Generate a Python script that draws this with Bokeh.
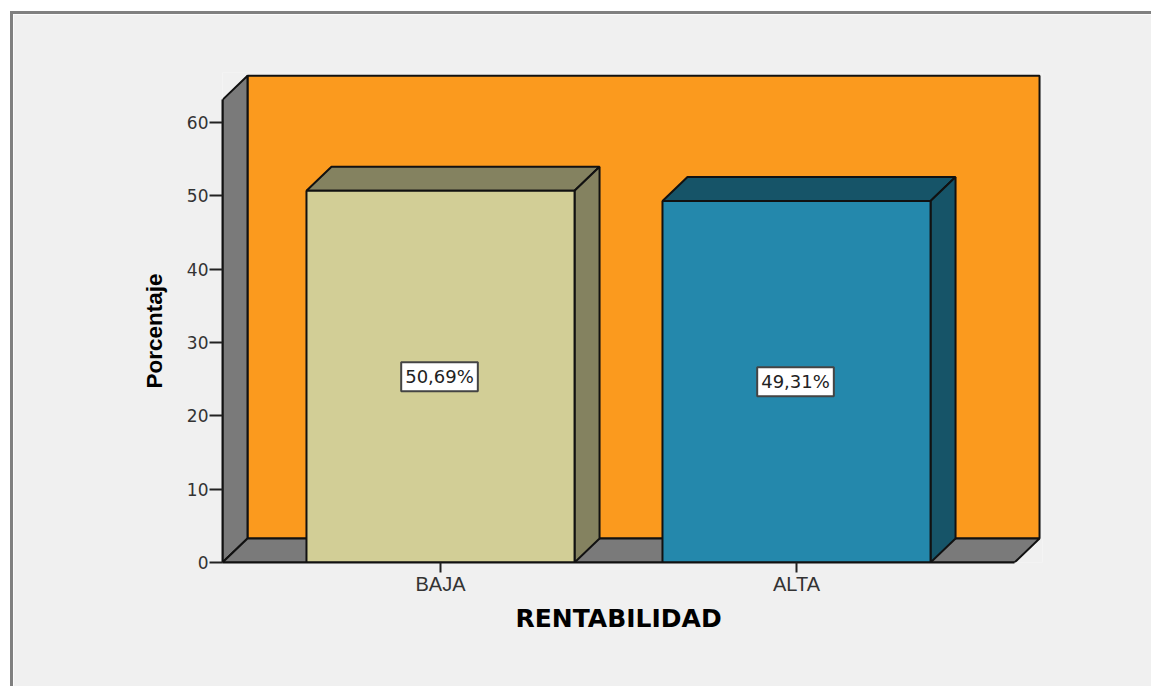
from bokeh.plotting import figure
from bokeh.models import Label, FixedTicker, Range1d, Title
from bokeh.embed import file_html
from bokeh.resources import INLINE

categories = ["BAJA", "ALTA"]
positions = [1, 2]
values = [50.69, 49.31]
value_labels = ["50,69%", "49,31%"]
y_ticks = [0, 10, 20, 30, 40, 50, 60]
front_colors = ["#D2CE96", "#2488AC"]
dark_colors = ["#848260", "#165468"]

ORANGE, GREY, BG, INK = "#FB9A1E", "#7A7A7A", "#F0F0F0", "#111111"
X_LO, X_HI, Y_TOP = 0.3876, 2.6124, 63.1
BAR_W = 0.753
DX, DY = 25 / 356, 24 / 7.333
PX_X, PX_Y = 356, 7.333

ORIGIN_X, ORIGIN_Y = 13, 14
FIG_W, FIG_H = 1141, 675
FRAME_L, FRAME_R, FRAME_T, FRAME_B = 222, 1042, 72, 562

p = figure(width=FIG_W, height=FIG_H, output_backend="svg", toolbar_location=None,
           x_range=Range1d(X_LO, X_LO + (FRAME_R - FRAME_L) / PX_X),
           y_range=Range1d(0, (FRAME_B - FRAME_T) / PX_Y),
           min_border_left=FRAME_L - ORIGIN_X, min_border_right=ORIGIN_X + FIG_W - FRAME_R,
           min_border_top=FRAME_T - ORIGIN_Y, min_border_bottom=ORIGIN_Y + FIG_H - FRAME_B,
           background_fill_color=BG, border_fill_color=BG, outline_line_color=None,
           margin=(11, 0, 0, 10))
p.grid.visible = False
p.styles = {"border-left": "3px solid #808080", "border-top": "3px solid #808080"}

# walls and floor
p.patch([X_LO + DX, X_HI + DX, X_HI + DX, X_LO + DX], [DY, DY, Y_TOP + DY, Y_TOP + DY],
        fill_color=ORANGE, line_color=INK, line_width=2)
p.patch([X_LO, X_LO + DX, X_LO + DX, X_LO], [0, DY, Y_TOP + DY, Y_TOP],
        fill_color=GREY, line_color=INK, line_width=2)
p.patch([X_LO, X_HI, X_HI + DX, X_LO + DX], [0, 0, DY, DY],
        fill_color=GREY, line_color=INK, line_width=2)

# bars
for c, v, front, dark in zip(positions, values, front_colors, dark_colors):
    l, r = c - BAR_W / 2, c + BAR_W / 2
    p.patch([l, r, r + DX, l + DX], [v, v, v + DY, v + DY], fill_color=dark, line_color=INK, line_width=2)
    p.patch([r, r + DX, r + DX, r], [0, DY, v + DY, v], fill_color=dark, line_color=INK, line_width=2)
    p.patch([l, r, r, l], [0, 0, v, v], fill_color=front, line_color=INK, line_width=2)

# axes
xa, ya = p.xaxis[0], p.yaxis[0]
xa.ticker = FixedTicker(ticks=positions)
xa.major_label_overrides = dict(zip(positions, categories))
xa.bounds = (X_LO, X_HI)
xa.major_tick_in, xa.major_tick_out = 0, 10
xa.minor_tick_line_color = None
xa.major_label_standoff = 0
xa.major_label_text_font = "Liberation Sans"
xa.major_label_text_font_size = "20px"
xa.major_label_text_color = "#333333"
ya.ticker = FixedTicker(ticks=y_ticks)
ya.bounds = (0, Y_TOP)
ya.major_tick_in, ya.major_tick_out = 0, 13
ya.minor_tick_line_color = None
ya.major_label_standoff = 1
ya.major_label_orientation = "horizontal"
ya.major_label_text_font = "DejaVu Sans"
ya.major_label_text_font_size = "17px"
ya.major_label_text_color = "#333333"
for a in (xa, ya):
    a.axis_line_color = INK
    a.axis_line_width = 2
    a.major_tick_line_color = "#222222"
    a.major_tick_line_width = 2

# axis titles
p.add_layout(Title(text="RENTABILIDAD", align="left", offset=293, standoff=9, text_font="DejaVu Sans",
                   text_font_style="bold", text_font_size="25px", text_color="#000000"), "below")
p.add_layout(Title(text="Porcentaje", align="left", offset=174, standoff=34, text_font="Liberation Sans",
                   text_font_style="bold", text_font_size="22.5px", text_color="#000000"), "left")

# value labels
for c, v, t in zip(positions, values, value_labels):
    p.add_layout(Label(x=c, y=v / 2, x_offset=-1, text=t, text_align="center", text_baseline="middle",
                       text_font="DejaVu Sans", text_font_size="18px", text_color="#222222",
                       background_fill_color="white", border_line_color="#444444", border_line_width=2,
                       padding=4))

open("out.html", "w").write(file_html(p, INLINE))
